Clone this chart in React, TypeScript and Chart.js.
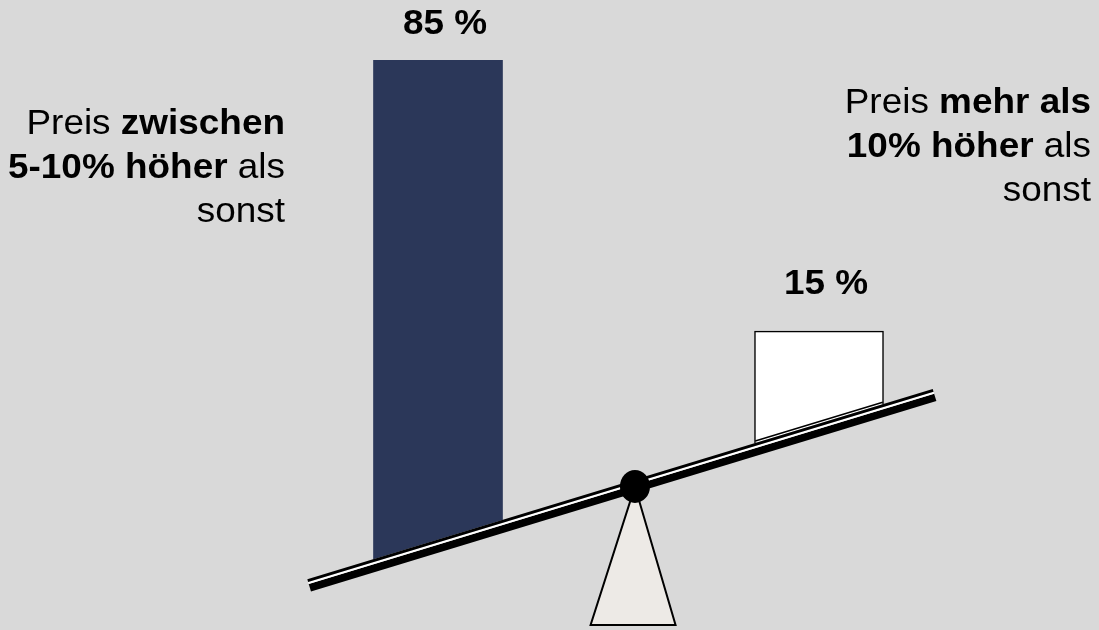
import { useEffect, useRef } from "react";
import { Chart, registerables } from "chart.js";

Chart.register(...registerables);

// Survey result: share of answers per price band
const categories = ["zwischen 5-10% höher", "mehr als 10% höher"];
const shares = [85, 15];
const valueLabels = shares.map((v) => `${v} %`);

// Captions beside the seesaw, as lines of [text, bold] runs
const captionLines: [string, boolean][][][] = [
  [
    [["Preis ", false], ["zwischen", true]],
    [["5-10% höher", true], [" als", false]],
    [["sonst", false]],
  ],
  [
    [["Preis ", false], ["mehr als", true]],
    [["10% höher", true], [" als", false]],
    [["sonst", false]],
  ],
];

// Where the bars stand on the x axis
const barPositions = [0, 1];

// Seesaw geometry in axis units
const X_MIN = -1.1496;
const X_MAX = 1.7349;
const Y_MAX = 114;
const pivotX = 0.512;
const plankEnds = [-0.343, 1.2985];
const plankLevelAtPivot = 27.1; // height of the plank surface above the pivot
const plankTilt = 20.98; // rise of the plank surface per x unit
const barFoot = 1.74; // extra height from the plank surface under the bar centre
const fulcrumBaseY = 0.9;
const fulcrumHalfWidth = 0.1115;

// Styles
const BG = "#D9D9D9";
const BAR_FILL = ["#2B3759", "#FFFFFF"];
const BAR_BORDER = ["#2B3759", "#000000"];
const BAR_BORDER_WIDTH = [0, 1.5];
const FULCRUM_FILL = "#EDEAE6";
const FONT_FAMILY = '"Liberation Sans", Arial, Helvetica, sans-serif';
const FONT_SIZE = 35;
const TEXT_STRETCH = 1.055; // slightly wide lettering
const LINE_HEIGHT = 44;
const LABEL_LIFT = [26, 37]; // gap between bar top and its value label baseline
const LABEL_SHIFT = 7;
const captionAnchors = [
  { right: 285, baseline: 134 },
  { right: 1091, baseline: 113 },
];
// plank strokes: [offset below the surface, width, colour]
const PLANK_STROKES: [number, number, string][] = [
  [8.7, 7.8, "#000"],
  [3.8, 2.0, "#FFF"],
  [1.4, 2.8, "#000"],
];

const plankSurface = (x: number) => plankLevelAtPivot + plankTilt * (x - pivotX);

const barData = barPositions.map((x, i) => ({
  x,
  y: [plankSurface(x - 0.25) - 1, plankSurface(x) + barFoot + shares[i]],
}));

const fontFor = (bold: boolean) => `${bold ? "bold " : ""}${FONT_SIZE}px ${FONT_FAMILY}`;

function stretchedText(ctx: CanvasRenderingContext2D, text: string, x: number, baseline: number) {
  ctx.save();
  ctx.translate(x, baseline);
  ctx.scale(TEXT_STRETCH, 1);
  ctx.fillText(text, 0, 0);
  ctx.restore();
}

function drawRuns(ctx: CanvasRenderingContext2D, runs: [string, boolean][], right: number, baseline: number) {
  let total = 0;
  const widths = runs.map(([text, bold]) => {
    ctx.font = fontFor(bold);
    const w = ctx.measureText(text).width * TEXT_STRETCH;
    total += w;
    return w;
  });
  let x = right - total;
  runs.forEach(([text, bold], i) => {
    ctx.font = fontFor(bold);
    stretchedText(ctx, text, x, baseline);
    x += widths[i];
  });
}

const seesawPlugin = {
  id: "seesaw",
  beforeDraw(chart: Chart) {
    const { ctx, width, height } = chart;
    ctx.save();
    ctx.fillStyle = BG;
    ctx.fillRect(0, 0, width, height);
    ctx.restore();
  },
  beforeDatasetsDraw(chart: Chart) {
    const { ctx, width } = chart;
    const xs = chart.scales.x;
    const ys = chart.scales.y;
    // bars only show above the plank surface
    ctx.save();
    ctx.beginPath();
    ctx.moveTo(xs.getPixelForValue(X_MIN), ys.getPixelForValue(plankSurface(X_MIN)));
    ctx.lineTo(xs.getPixelForValue(X_MAX), ys.getPixelForValue(plankSurface(X_MAX)));
    ctx.lineTo(width, 0);
    ctx.lineTo(0, 0);
    ctx.closePath();
    ctx.clip();
  },
  afterDatasetsDraw(chart: Chart) {
    const { ctx } = chart;
    ctx.restore();
    const xs = chart.scales.x;
    const ys = chart.scales.y;
    const meta = chart.getDatasetMeta(0);
    const surfacePx = (px: number) => ys.getPixelForValue(plankSurface(xs.getValueForPixel(px) as number));

    ctx.save();
    // bottom edge of outlined bars, along the plank
    meta.data.forEach((el: any, i: number) => {
      if (!BAR_BORDER_WIDTH[i]) return;
      const half = el.width / 2;
      const l = el.x - half + BAR_BORDER_WIDTH[i] / 2;
      const r = el.x + half - BAR_BORDER_WIDTH[i] / 2;
      ctx.beginPath();
      ctx.moveTo(l, surfacePx(l) - 2);
      ctx.lineTo(r, surfacePx(r) - 2);
      ctx.strokeStyle = BAR_BORDER[i];
      ctx.lineWidth = BAR_BORDER_WIDTH[i];
      ctx.stroke();
    });

    // plank end points and its downward normal
    const p1 = { x: xs.getPixelForValue(plankEnds[0]), y: ys.getPixelForValue(plankSurface(plankEnds[0])) };
    const p2 = { x: xs.getPixelForValue(plankEnds[1]), y: ys.getPixelForValue(plankSurface(plankEnds[1])) };
    const len = Math.hypot(p2.x - p1.x, p2.y - p1.y);
    const d = { x: (p2.x - p1.x) / len, y: (p2.y - p1.y) / len };
    const n = { x: -d.y, y: d.x };

    // pivot centre on the plank
    const pv = { x: xs.getPixelForValue(pivotX), y: ys.getPixelForValue(plankSurface(pivotX)) };
    const pc = { x: pv.x + n.x * 6.5, y: pv.y + n.y * 6.5 };

    // fulcrum
    const baseY = ys.getPixelForValue(fulcrumBaseY);
    ctx.beginPath();
    ctx.moveTo(pc.x, pc.y);
    ctx.lineTo(xs.getPixelForValue(pivotX + fulcrumHalfWidth), baseY);
    ctx.lineTo(xs.getPixelForValue(pivotX - fulcrumHalfWidth), baseY);
    ctx.closePath();
    ctx.fillStyle = FULCRUM_FILL;
    ctx.fill();
    ctx.strokeStyle = "#000";
    ctx.lineWidth = 2;
    ctx.lineJoin = "miter";
    ctx.stroke();

    // plank: thin line, white gap, thick line
    ctx.lineCap = "butt";
    PLANK_STROKES.forEach(([off, w, c]) => {
      ctx.beginPath();
      ctx.moveTo(p1.x + n.x * off, p1.y + n.y * off);
      ctx.lineTo(p2.x + n.x * off, p2.y + n.y * off);
      ctx.strokeStyle = c;
      ctx.lineWidth = w;
      ctx.stroke();
    });

    // pivot
    ctx.beginPath();
    ctx.ellipse(pc.x, pc.y, 15, 16.5, 0, 0, Math.PI * 2);
    ctx.fillStyle = "#000";
    ctx.fill();

    // value labels above the bars
    ctx.fillStyle = "#000";
    ctx.textAlign = "left";
    ctx.textBaseline = "alphabetic";
    ctx.font = fontFor(true);
    meta.data.forEach((el: any, i: number) => {
      const w = ctx.measureText(valueLabels[i]).width * TEXT_STRETCH;
      stretchedText(ctx, valueLabels[i], el.x + LABEL_SHIFT - w / 2, el.y - LABEL_LIFT[i]);
    });

    // captions
    captionLines.forEach((lines, i) => {
      const a = captionAnchors[i];
      lines.forEach((runs, j) => drawRuns(ctx, runs, a.right, a.baseline + j * LINE_HEIGHT));
    });
    ctx.restore();
  },
};

export default function App() {
  const canvasRef = useRef<HTMLCanvasElement>(null);

  useEffect(() => {
    const canvas = canvasRef.current;
    if (!canvas) return;
    const chart = new Chart(canvas, {
      type: "bar",
      data: {
        labels: categories,
        datasets: [
          {
            label: "Anteil",
            data: barData as any,
            backgroundColor: BAR_FILL,
            borderColor: BAR_BORDER,
            borderWidth: BAR_BORDER_WIDTH,
            barThickness: 129,
          },
        ],
      },
      options: {
        responsive: false,
        maintainAspectRatio: false,
        animation: false,
        devicePixelRatio: 1,
        events: [],
        layout: { padding: 0 },
        plugins: {
          legend: { display: false },
          tooltip: { enabled: false },
          title: { display: false },
        },
        scales: {
          x: { type: "linear", min: X_MIN, max: X_MAX, offset: false, display: false },
          y: { type: "linear", min: 0, max: Y_MAX, display: false },
        },
      },
      plugins: [seesawPlugin],
    });
    return () => chart.destroy();
  }, []);

  return (
    <div style={{ position: "fixed", left: 0, top: 0, width: 1099, height: 630, background: BG }}>
      <canvas ref={canvasRef} width={1099} height={630} style={{ display: "block", width: 1099, height: 630 }} />
    </div>
  );
}
